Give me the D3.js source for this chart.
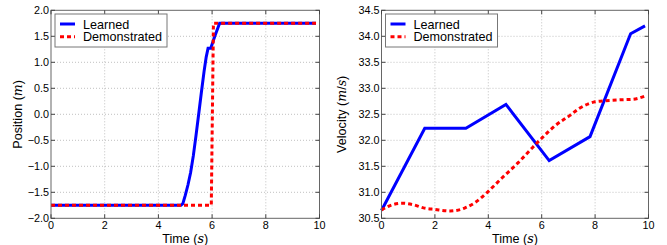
<!DOCTYPE html>
<html><head><meta charset="utf-8">
<script src="https://cdn.jsdelivr.net/npm/d3@7"></script>
<style>body{margin:0;background:#fff}svg{display:block}</style>
</head><body>
<svg id="c" width="667" height="245"></svg>
<script>
// ---- data ----
const posLearnedT = [0, 4.84, 4.91, 5.0, 5.1, 5.2, 5.3, 5.4, 5.5, 5.6, 5.7, 5.78, 5.85, 5.95, 6.1, 6.28, 9.87];
const posLearnedV = [-1.75, -1.75, -1.72, -1.56, -1.36, -1.12, -0.8, -0.41, 0.0, 0.42, 0.82, 1.1, 1.27, 1.27, 1.5, 1.75, 1.75];
const posDemoT = [0, 5.97, 6.05, 9.87];
const posDemoV = [-1.75, -1.75, 1.75, 1.75];
const velLearnedT = [0, 1.62, 3.16, 4.66, 6.28, 7.81, 9.33, 9.87];
const velLearnedV = [30.65, 32.23, 32.23, 32.69, 31.61, 32.07, 34.05, 34.2];
const velDemoT = [0, 0.4, 0.76, 1.2, 1.57, 2.0, 2.57, 3.13, 3.5, 3.94, 4.5, 5.12, 5.6, 6.0, 6.5, 7.06, 7.4, 7.75, 8.0, 8.37, 9.0, 9.43, 9.87];
const velDemoV = [30.66, 30.76, 30.79, 30.76, 30.70, 30.67, 30.64, 30.70, 30.80, 30.99, 31.27, 31.57, 31.83, 32.04, 32.28, 32.48, 32.61, 32.70, 32.74, 32.76, 32.78, 32.79, 32.85];
const xTicks = [0, 2, 4, 6, 8, 10];
const posTicks = [-2.0, -1.5, -1.0, -0.5, 0.0, 0.5, 1.0, 1.5, 2.0];
const velTicks = [30.5, 31.0, 31.5, 32.0, 32.5, 33.0, 33.5, 34.0, 34.5];
const seriesNames = ["Learned", "Demonstrated"];

const svg = d3.select("#c");
const FONT = "'Liberation Sans', Arial, sans-serif";
const MATH = "'DejaVu Serif', 'Liberation Serif', serif";

function panel(cfg) {
  const x = d3.scaleLinear().domain([0, 10]).range([cfg.x0, cfg.x1]);
  const y = d3.scaleLinear().domain(cfg.yDomain).range([218.3, 10.3]);
  const g = svg.append("g");
  // grid
  g.selectAll(".gx").data(xTicks.slice(1, -1)).enter().append("line")
    .attr("x1", d => x(d)).attr("x2", d => x(d)).attr("y1", y.range()[0]).attr("y2", y.range()[1])
    .attr("stroke", "#b0b0b0").attr("stroke-width", 0.8).attr("stroke-dasharray", "1,2");
  g.selectAll(".gy").data(cfg.yTicks.slice(1, -1)).enter().append("line")
    .attr("y1", d => y(d)).attr("y2", d => y(d)).attr("x1", cfg.x0).attr("x2", cfg.x1)
    .attr("stroke", "#b0b0b0").attr("stroke-width", 0.8).attr("stroke-dasharray", "1,2");
  // lines
  const lineL = d3.line().x(d => x(d[0])).y(d => y(d[1])).curve(cfg.curveL);
  const lineD = d3.line().x(d => x(d[0])).y(d => y(d[1])).curve(cfg.curveD);
  g.append("path").datum(d3.zip(cfg.lt, cfg.lv)).attr("d", lineL)
    .attr("fill", "none").attr("stroke", "#0000ff").attr("stroke-width", 3).attr("stroke-linejoin", "miter");
  g.append("path").datum(d3.zip(cfg.dt, cfg.dv)).attr("d", lineD)
    .attr("fill", "none").attr("stroke", "#ff0000").attr("stroke-width", 3).attr("stroke-dasharray", "4,3");
  // frame
  g.append("rect").attr("x", cfg.x0).attr("y", 10.3).attr("width", cfg.x1 - cfg.x0).attr("height", 208)
    .attr("fill", "none").attr("stroke", "#666").attr("stroke-width", 1);
  // ticks (inward, all sides)
  xTicks.forEach(t => {
    g.append("line").attr("x1", x(t)).attr("x2", x(t)).attr("y1", 218.3).attr("y2", 214.3).attr("stroke", "#444");
    g.append("line").attr("x1", x(t)).attr("x2", x(t)).attr("y1", 10.3).attr("y2", 14.3).attr("stroke", "#444");
  });
  cfg.yTicks.forEach(t => {
    g.append("line").attr("x1", cfg.x0).attr("x2", cfg.x0 + 4).attr("y1", y(t)).attr("y2", y(t)).attr("stroke", "#444");
    g.append("line").attr("x1", cfg.x1).attr("x2", cfg.x1 - 4).attr("y1", y(t)).attr("y2", y(t)).attr("stroke", "#444");
  });
  // tick labels
  g.selectAll(".xl").data(xTicks).enter().append("text")
    .attr("x", d => x(d)).attr("y", 229).attr("text-anchor", "middle")
    .attr("font-family", FONT).attr("font-size", 10.8).attr("fill", "#000").text(d => d);
  g.selectAll(".yl").data(cfg.yTicks).enter().append("text")
    .attr("x", cfg.x0 - 2).attr("y", d => y(d)).attr("dy", "0.36em").attr("text-anchor", "end")
    .attr("font-family", FONT).attr("font-size", 10.8).attr("fill", "#000")
    .text(d => d3.format(".1f")(d).replace("-", "\u2212"));
  // x label
  const xl = g.append("text").attr("x", (cfg.x0 + cfg.x1) / 2).attr("y", 243).attr("text-anchor", "middle")
    .attr("font-family", FONT).attr("font-size", 12.6);
  xl.append("tspan").text("Time (");
  xl.append("tspan").attr("font-family", MATH).attr("font-style", "italic").text("s");
  xl.append("tspan").text(")");
  // y label
  const yl = g.append("text").attr("transform", `translate(${cfg.ylx},114.3) rotate(-90)`).attr("text-anchor", "middle")
    .attr("font-family", FONT).attr("font-size", 12.6);
  yl.append("tspan").text(cfg.yName + " (");
  cfg.yUnit.forEach(u => {
    if (u === "/") yl.append("tspan").text("/");
    else yl.append("tspan").attr("font-family", MATH).attr("font-style", "italic").text(u);
  });
  yl.append("tspan").text(")");
  // legend
  const lx = cfg.x0 + 4, ly = 14;
  g.append("rect").attr("x", lx).attr("y", ly).attr("width", 112).attr("height", 33)
    .attr("fill", "#fff").attr("stroke", "#777").attr("stroke-width", 1);
  [["#0000ff", null], ["#ff0000", "4,3"]].forEach((s, i) => {
    const yy = ly + 10 + i * 12.7;
    g.append("line").attr("x1", lx + 5).attr("x2", lx + 20).attr("y1", yy).attr("y2", yy)
      .attr("stroke", s[0]).attr("stroke-width", 3).attr("stroke-dasharray", s[1]);
    g.append("text").attr("x", lx + 28).attr("y", yy).attr("dy", "0.36em")
      .attr("font-family", FONT).attr("font-size", 12.6).text(seriesNames[i]);
  });
}

panel({x0: 51, x1: 319.5, yDomain: [-2, 2], yTicks: posTicks,
  lt: posLearnedT, lv: posLearnedV, dt: posDemoT, dv: posDemoV,
  curveL: d3.curveLinear, curveD: d3.curveLinear, ylx: 22, yName: "Position", yUnit: ["m"]});
panel({x0: 381.5, x1: 648.5, yDomain: [30.5, 34.5], yTicks: velTicks,
  lt: velLearnedT, lv: velLearnedV, dt: velDemoT, dv: velDemoV,
  curveL: d3.curveLinear, curveD: d3.curveMonotoneX, ylx: 346, yName: "Velocity", yUnit: ["m", "/", "s"]});
</script>
</body></html>
